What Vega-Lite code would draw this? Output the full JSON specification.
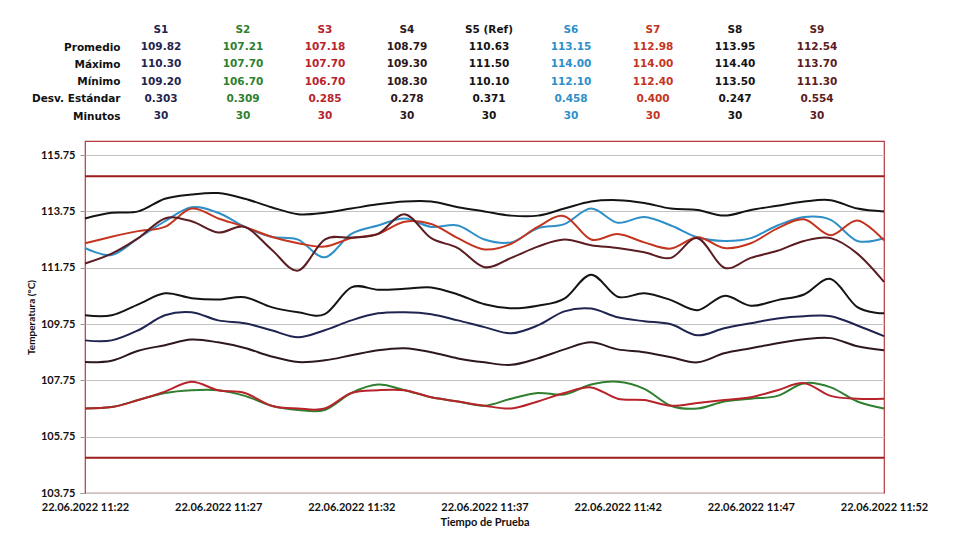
{
  "$schema": "https://vega.github.io/schema/vega-lite/v6.json",
  "width": 799,
  "height": 352,
  "autosize": "none",
  "padding": {"left": 85, "top": 141, "right": 84, "bottom": 67},
  "background": "#ffffff",
  "config": {
    "view": {"stroke": "#b5393d", "strokeWidth": 1.2},
    "font": "Lato"
  },
  "datasets": {
    "temps": [
      {"t": "2022-06-22T11:22:00", "S1": 109.17, "S2": 106.75, "S3": 106.75, "S4": 108.4, "S5": 110.06, "S6": 112.45, "S7": 112.62, "S8": 113.5, "S9": 111.9},
      {"t": "2022-06-22T11:23:00", "S1": 109.17, "S2": 106.8, "S3": 106.8, "S4": 108.45, "S5": 110.06, "S6": 112.2, "S7": 112.85, "S8": 113.7, "S9": 112.25},
      {"t": "2022-06-22T11:24:00", "S1": 109.53, "S2": 107.05, "S3": 107.05, "S4": 108.8, "S5": 110.45, "S6": 112.8, "S7": 113.05, "S8": 113.75, "S9": 112.8},
      {"t": "2022-06-22T11:25:00", "S1": 110.06, "S2": 107.3, "S3": 107.35, "S4": 109.0, "S5": 110.84, "S6": 113.4, "S7": 113.2, "S8": 114.2, "S9": 113.5},
      {"t": "2022-06-22T11:26:00", "S1": 110.17, "S2": 107.4, "S3": 107.7, "S4": 109.2, "S5": 110.67, "S6": 113.9, "S7": 113.85, "S8": 114.35, "S9": 113.4},
      {"t": "2022-06-22T11:27:00", "S1": 109.88, "S2": 107.4, "S3": 107.4, "S4": 109.1, "S5": 110.62, "S6": 113.7, "S7": 113.5, "S8": 114.4, "S9": 113.0},
      {"t": "2022-06-22T11:28:00", "S1": 109.78, "S2": 107.2, "S3": 107.3, "S4": 108.9, "S5": 110.7, "S6": 113.2, "S7": 113.2, "S8": 114.2, "S9": 113.2},
      {"t": "2022-06-22T11:29:00", "S1": 109.53, "S2": 106.85, "S3": 106.85, "S4": 108.6, "S5": 110.35, "S6": 112.85, "S7": 112.85, "S8": 113.9, "S9": 112.4},
      {"t": "2022-06-22T11:30:00", "S1": 109.28, "S2": 106.7, "S3": 106.75, "S4": 108.4, "S5": 110.17, "S6": 112.75, "S7": 112.62, "S8": 113.65, "S9": 111.65},
      {"t": "2022-06-22T11:31:00", "S1": 109.53, "S2": 106.7, "S3": 106.75, "S4": 108.46, "S5": 110.1, "S6": 112.12, "S7": 112.5, "S8": 113.7, "S9": 112.75},
      {"t": "2022-06-22T11:32:00", "S1": 109.88, "S2": 107.3, "S3": 107.3, "S4": 108.64, "S5": 111.05, "S6": 112.95, "S7": 112.8, "S8": 113.85, "S9": 112.82},
      {"t": "2022-06-22T11:33:00", "S1": 110.13, "S2": 107.6, "S3": 107.4, "S4": 108.82, "S5": 110.97, "S6": 113.25, "S7": 112.95, "S8": 114.0, "S9": 112.95},
      {"t": "2022-06-22T11:34:00", "S1": 110.17, "S2": 107.4, "S3": 107.4, "S4": 108.89, "S5": 111.0, "S6": 113.5, "S7": 113.38, "S8": 114.1, "S9": 113.65},
      {"t": "2022-06-22T11:35:00", "S1": 110.1, "S2": 107.15, "S3": 107.15, "S4": 108.75, "S5": 111.05, "S6": 113.2, "S7": 113.3, "S8": 114.1, "S9": 112.8},
      {"t": "2022-06-22T11:36:00", "S1": 109.88, "S2": 107.0, "S3": 107.0, "S4": 108.53, "S5": 110.8, "S6": 113.25, "S7": 112.8, "S8": 113.9, "S9": 112.45},
      {"t": "2022-06-22T11:37:00", "S1": 109.64, "S2": 106.85, "S3": 106.85, "S4": 108.39, "S5": 110.45, "S6": 112.75, "S7": 112.4, "S8": 113.75, "S9": 111.77},
      {"t": "2022-06-22T11:38:00", "S1": 109.42, "S2": 107.1, "S3": 106.75, "S4": 108.3, "S5": 110.31, "S6": 112.65, "S7": 112.6, "S8": 113.6, "S9": 112.1},
      {"t": "2022-06-22T11:39:00", "S1": 109.7, "S2": 107.3, "S3": 107.0, "S4": 108.53, "S5": 110.4, "S6": 113.15, "S7": 113.2, "S8": 113.6, "S9": 112.5},
      {"t": "2022-06-22T11:40:00", "S1": 110.2, "S2": 107.25, "S3": 107.3, "S4": 108.85, "S5": 110.65, "S6": 113.3, "S7": 113.58, "S8": 113.85, "S9": 112.75},
      {"t": "2022-06-22T11:41:00", "S1": 110.3, "S2": 107.6, "S3": 107.5, "S4": 109.1, "S5": 111.5, "S6": 113.85, "S7": 112.75, "S8": 114.1, "S9": 112.55},
      {"t": "2022-06-22T11:42:00", "S1": 109.99, "S2": 107.7, "S3": 107.1, "S4": 108.85, "S5": 110.72, "S6": 113.35, "S7": 112.95, "S8": 114.15, "S9": 112.45},
      {"t": "2022-06-22T11:43:00", "S1": 109.85, "S2": 107.45, "S3": 107.05, "S4": 108.75, "S5": 110.84, "S6": 113.55, "S7": 112.65, "S8": 114.05, "S9": 112.3},
      {"t": "2022-06-22T11:44:00", "S1": 109.74, "S2": 106.85, "S3": 106.85, "S4": 108.57, "S5": 110.6, "S6": 113.25, "S7": 112.43, "S8": 113.85, "S9": 112.1},
      {"t": "2022-06-22T11:45:00", "S1": 109.35, "S2": 106.75, "S3": 106.95, "S4": 108.39, "S5": 110.24, "S6": 112.83, "S7": 112.83, "S8": 113.8, "S9": 112.8},
      {"t": "2022-06-22T11:46:00", "S1": 109.6, "S2": 107.0, "S3": 107.05, "S4": 108.71, "S5": 110.75, "S6": 112.7, "S7": 112.45, "S8": 113.6, "S9": 111.75},
      {"t": "2022-06-22T11:47:00", "S1": 109.78, "S2": 107.1, "S3": 107.15, "S4": 108.89, "S5": 110.4, "S6": 112.8, "S7": 112.62, "S8": 113.8, "S9": 112.1},
      {"t": "2022-06-22T11:48:00", "S1": 109.95, "S2": 107.2, "S3": 107.4, "S4": 109.07, "S5": 110.6, "S6": 113.25, "S7": 113.15, "S8": 113.95, "S9": 112.35},
      {"t": "2022-06-22T11:49:00", "S1": 110.03, "S2": 107.65, "S3": 107.65, "S4": 109.21, "S5": 110.8, "S6": 113.55, "S7": 113.47, "S8": 114.1, "S9": 112.7},
      {"t": "2022-06-22T11:50:00", "S1": 110.03, "S2": 107.5, "S3": 107.2, "S4": 109.25, "S5": 111.35, "S6": 113.45, "S7": 112.9, "S8": 114.15, "S9": 112.8},
      {"t": "2022-06-22T11:51:00", "S1": 109.7, "S2": 107.0, "S3": 107.1, "S4": 108.96, "S5": 110.35, "S6": 112.7, "S7": 113.43, "S8": 113.85, "S9": 112.25},
      {"t": "2022-06-22T11:52:00", "S1": 109.32, "S2": 106.75, "S3": 107.1, "S4": 108.82, "S5": 110.13, "S6": 112.8, "S7": 112.72, "S8": 113.75, "S9": 111.25}
    ],
    "limits": [{"lim": 115}, {"lim": 105}],
    "stats": [
      {"s": "S1", "r": "h", "t": "S1"}, {"s": "S1", "r": "Promedio", "t": "109.82"}, {"s": "S1", "r": "Máximo", "t": "110.30"}, {"s": "S1", "r": "Mínimo", "t": "109.20"}, {"s": "S1", "r": "Desv. Estándar", "t": "0.303"}, {"s": "S1", "r": "Minutos", "t": "30"},
      {"s": "S2", "r": "h", "t": "S2"}, {"s": "S2", "r": "Promedio", "t": "107.21"}, {"s": "S2", "r": "Máximo", "t": "107.70"}, {"s": "S2", "r": "Mínimo", "t": "106.70"}, {"s": "S2", "r": "Desv. Estándar", "t": "0.309"}, {"s": "S2", "r": "Minutos", "t": "30"},
      {"s": "S3", "r": "h", "t": "S3"}, {"s": "S3", "r": "Promedio", "t": "107.18"}, {"s": "S3", "r": "Máximo", "t": "107.70"}, {"s": "S3", "r": "Mínimo", "t": "106.70"}, {"s": "S3", "r": "Desv. Estándar", "t": "0.285"}, {"s": "S3", "r": "Minutos", "t": "30"},
      {"s": "S4", "r": "h", "t": "S4"}, {"s": "S4", "r": "Promedio", "t": "108.79"}, {"s": "S4", "r": "Máximo", "t": "109.30"}, {"s": "S4", "r": "Mínimo", "t": "108.30"}, {"s": "S4", "r": "Desv. Estándar", "t": "0.278"}, {"s": "S4", "r": "Minutos", "t": "30"},
      {"s": "S5", "r": "h", "t": "S5 (Ref)"}, {"s": "S5", "r": "Promedio", "t": "110.63"}, {"s": "S5", "r": "Máximo", "t": "111.50"}, {"s": "S5", "r": "Mínimo", "t": "110.10"}, {"s": "S5", "r": "Desv. Estándar", "t": "0.371"}, {"s": "S5", "r": "Minutos", "t": "30"},
      {"s": "S6", "r": "h", "t": "S6"}, {"s": "S6", "r": "Promedio", "t": "113.15"}, {"s": "S6", "r": "Máximo", "t": "114.00"}, {"s": "S6", "r": "Mínimo", "t": "112.10"}, {"s": "S6", "r": "Desv. Estándar", "t": "0.458"}, {"s": "S6", "r": "Minutos", "t": "30"},
      {"s": "S7", "r": "h", "t": "S7"}, {"s": "S7", "r": "Promedio", "t": "112.98"}, {"s": "S7", "r": "Máximo", "t": "114.00"}, {"s": "S7", "r": "Mínimo", "t": "112.40"}, {"s": "S7", "r": "Desv. Estándar", "t": "0.400"}, {"s": "S7", "r": "Minutos", "t": "30"},
      {"s": "S8", "r": "h", "t": "S8"}, {"s": "S8", "r": "Promedio", "t": "113.95"}, {"s": "S8", "r": "Máximo", "t": "114.40"}, {"s": "S8", "r": "Mínimo", "t": "113.50"}, {"s": "S8", "r": "Desv. Estándar", "t": "0.247"}, {"s": "S8", "r": "Minutos", "t": "30"},
      {"s": "S9", "r": "h", "t": "S9"}, {"s": "S9", "r": "Promedio", "t": "112.54"}, {"s": "S9", "r": "Máximo", "t": "113.70"}, {"s": "S9", "r": "Mínimo", "t": "111.30"}, {"s": "S9", "r": "Desv. Estándar", "t": "0.554"}, {"s": "S9", "r": "Minutos", "t": "30"}
    ]
  },
  "layer": [
    {
      "layer": [
        {
          "data": {"name": "temps"},
          "transform": [{"fold": ["S1", "S2", "S3", "S4", "S5", "S6", "S7", "S8", "S9"], "as": ["series", "temp"]}],
          "mark": {"type": "line", "interpolate": "cardinal", "strokeWidth": 2},
          "encoding": {
            "x": {
              "field": "t", "type": "temporal",
              "scale": {"nice": false},
              "axis": {
                "values": [
                  {"year": 2022, "month": 6, "date": 22, "hours": 11, "minutes": 22},
                  {"year": 2022, "month": 6, "date": 22, "hours": 11, "minutes": 27},
                  {"year": 2022, "month": 6, "date": 22, "hours": 11, "minutes": 32},
                  {"year": 2022, "month": 6, "date": 22, "hours": 11, "minutes": 37},
                  {"year": 2022, "month": 6, "date": 22, "hours": 11, "minutes": 42},
                  {"year": 2022, "month": 6, "date": 22, "hours": 11, "minutes": 47},
                  {"year": 2022, "month": 6, "date": 22, "hours": 11, "minutes": 52}
                ],
                "format": "%d.%m.%Y %H:%M",
                "labelFlush": false, "labelOverlap": false,
                "labelFont": "Lato", "labelFontSize": 11, "labelFontWeight": "bold", "labelColor": "#111111",
                "labelPadding": 8, "domain": false, "ticks": false, "grid": false,
                "title": "Tiempo de Prueba", "titleFont": "Lato", "titleFontSize": 11, "titleFontWeight": "bold", "titleColor": "#111111", "titlePadding": 4
              }
            },
            "y": {
              "field": "temp", "type": "quantitative",
              "scale": {"domain": [103.75, 116.25], "nice": false, "zero": false},
              "axis": {
                "values": [103.75, 104.75, 105.75, 106.75, 107.75, 108.75, 109.75, 110.75, 111.75, 112.75, 113.75, 114.75, 115.75],
                "labelExpr": "((datum.value - 103.75) % 2) < 0.01 ? format(datum.value, '.2f') : ''",
                "labelFont": "Lato", "labelFontSize": 11, "labelFontWeight": "bold", "labelColor": "#111111", "labelPadding": 5,
                "labelFlush": false, "labelOverlap": false,
                "domain": false, "tickSize": 5, "tickColor": "#999999",
                "grid": true, "gridColor": "#c2c2c2", "gridWidth": 1,
                "title": "Temperatura (°C)", "titleFont": "Lato", "titleFontSize": 10, "titleFontWeight": "bold", "titleColor": "#111111", "titlePadding": 4
              }
            },
            "color": {
              "field": "series", "type": "nominal",
              "scale": {
                "domain": ["S1", "S2", "S3", "S4", "S5", "S6", "S7", "S8", "S9"],
                "range": ["#1f2550", "#2f7f2f", "#b8232b", "#2e1820", "#141414", "#2e8fc9", "#c4351f", "#141414", "#5b1c22"]
              },
              "legend": null
            }
          }
        },
        {
          "data": {"name": "limits"},
          "mark": {"type": "rule", "color": "#9c1c1c", "strokeWidth": 2},
          "encoding": {"y": {"field": "lim", "type": "quantitative"}}
        }
      ]
    },
    {
      "data": {"name": "stats"},
      "mark": {"type": "text", "font": "DejaVu Sans", "fontWeight": "bold", "fontSize": 10.5, "baseline": "middle"},
      "encoding": {
        "x": {
          "field": "s", "type": "nominal",
          "scale": {"type": "point", "domain": ["S1", "S2", "S3", "S4", "S5", "S6", "S7", "S8", "S9"], "range": [76, 732], "padding": 0},
          "axis": null
        },
        "y": {
          "field": "r", "type": "nominal",
          "scale": {"type": "point", "domain": ["h", "Promedio", "Máximo", "Mínimo", "Desv. Estándar", "Minutos"], "range": [-111, -25], "padding": 0},
          "axis": {
            "orient": "left", "offset": -35, "domain": false, "ticks": false, "grid": false,
            "labelPadding": 0, "labelFont": "DejaVu Sans", "labelFontWeight": "bold", "labelFontSize": 10.5, "labelColor": "#111111",
            "labelExpr": "datum.value == 'h' ? '' : datum.value", "title": null
          }
        },
        "text": {"field": "t"},
        "color": {"field": "s", "type": "nominal", "legend": null}
      }
    }
  ],
  "resolve": {"scale": {"x": "independent", "y": "independent"}}
}
